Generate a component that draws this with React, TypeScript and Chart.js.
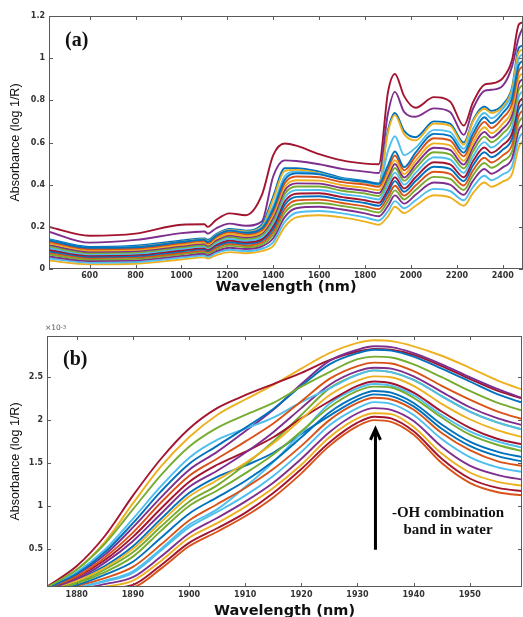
import React, { useEffect, useRef } from 'react';
import { Chart, registerables } from 'chart.js';

Chart.register(...registerables);

// ---------- Panel (a): full NIR spectra ----------
const WL_A = [420, 600, 800, 1000, 1100, 1115, 1150, 1210, 1280, 1350, 1400, 1450, 1500, 1600, 1700, 1800, 1860, 1900, 1930, 1970, 2020, 2100, 2170, 2230, 2270, 2320, 2350, 2400, 2440, 2470, 2490];
const XA_TICKS = [600, 800, 1000, 1200, 1400, 1600, 1800, 2000, 2200, 2400];
const YA_TICKS = [0, 0.2, 0.4, 0.6, 0.8, 1, 1.2];

const A_TOP = [0.200, 0.158, 0.168, 0.210, 0.212, 0.200, 0.232, 0.264, 0.255, 0.350, 0.540, 0.595, 0.585, 0.545, 0.515, 0.500, 0.497, 0.840, 0.925, 0.820, 0.765, 0.815, 0.795, 0.680, 0.790, 0.875, 0.880, 0.905, 0.990, 1.160, 1.170];
const A_SECOND = [0.178, 0.125, 0.138, 0.170, 0.178, 0.168, 0.192, 0.215, 0.205, 0.225, 0.440, 0.515, 0.512, 0.497, 0.475, 0.462, 0.455, 0.740, 0.840, 0.745, 0.722, 0.762, 0.745, 0.636, 0.760, 0.845, 0.850, 0.870, 0.960, 1.100, 1.150];
const A_THIRD_Y = [0.135, 0.098, 0.105, 0.130, 0.140, 0.132, 0.160, 0.185, 0.178, 0.200, 0.330, 0.465, 0.470, 0.455, 0.425, 0.410, 0.400, 0.650, 0.730, 0.640, 0.610, 0.690, 0.680, 0.590, 0.700, 0.760, 0.740, 0.770, 0.850, 1.030, 1.040];
const A_THIRD_B = [0.142, 0.105, 0.110, 0.135, 0.145, 0.138, 0.165, 0.190, 0.182, 0.210, 0.345, 0.478, 0.478, 0.462, 0.432, 0.418, 0.405, 0.660, 0.740, 0.655, 0.625, 0.700, 0.690, 0.600, 0.705, 0.770, 0.750, 0.780, 0.860, 1.050, 1.060];
const A_TEAL = [0.138, 0.100, 0.104, 0.128, 0.139, 0.130, 0.158, 0.183, 0.174, 0.196, 0.300, 0.440, 0.462, 0.452, 0.428, 0.412, 0.400, 0.560, 0.630, 0.540, 0.575, 0.660, 0.650, 0.570, 0.665, 0.740, 0.715, 0.760, 0.835, 1.000, 1.020];
const A_B1 = [0.137, 0.100, 0.103, 0.128, 0.138, 0.128, 0.157, 0.182, 0.172, 0.192, 0.285, 0.423, 0.454, 0.449, 0.425, 0.414, 0.404, 0.493, 0.557, 0.483, 0.552, 0.641, 0.631, 0.552, 0.641, 0.720, 0.691, 0.740, 0.809, 0.968, 0.988];
const A_B2 = [0.130, 0.094, 0.097, 0.122, 0.132, 0.122, 0.151, 0.175, 0.165, 0.184, 0.272, 0.407, 0.439, 0.435, 0.412, 0.401, 0.390, 0.475, 0.538, 0.468, 0.534, 0.620, 0.610, 0.534, 0.621, 0.698, 0.669, 0.717, 0.783, 0.940, 0.961];
const A_B3 = [0.122, 0.088, 0.091, 0.115, 0.125, 0.116, 0.143, 0.166, 0.157, 0.175, 0.258, 0.389, 0.421, 0.419, 0.397, 0.385, 0.374, 0.455, 0.516, 0.450, 0.513, 0.596, 0.586, 0.513, 0.598, 0.672, 0.644, 0.690, 0.753, 0.908, 0.930];
const A_B4 = [0.115, 0.082, 0.085, 0.109, 0.119, 0.110, 0.136, 0.159, 0.150, 0.168, 0.245, 0.373, 0.406, 0.405, 0.384, 0.371, 0.360, 0.438, 0.498, 0.434, 0.495, 0.575, 0.565, 0.495, 0.578, 0.650, 0.623, 0.666, 0.728, 0.880, 0.903];
const A_B5 = [0.108, 0.076, 0.079, 0.103, 0.113, 0.104, 0.130, 0.151, 0.143, 0.160, 0.232, 0.356, 0.391, 0.391, 0.371, 0.358, 0.346, 0.420, 0.479, 0.418, 0.477, 0.554, 0.544, 0.477, 0.557, 0.628, 0.601, 0.643, 0.702, 0.852, 0.875];
const A_B6 = [0.100, 0.070, 0.073, 0.096, 0.106, 0.098, 0.122, 0.143, 0.135, 0.151, 0.218, 0.338, 0.374, 0.375, 0.356, 0.342, 0.330, 0.400, 0.457, 0.400, 0.456, 0.530, 0.520, 0.456, 0.534, 0.602, 0.576, 0.616, 0.672, 0.820, 0.844];
const A_B7 = [0.092, 0.064, 0.067, 0.089, 0.099, 0.092, 0.114, 0.135, 0.127, 0.142, 0.204, 0.320, 0.357, 0.359, 0.341, 0.326, 0.314, 0.380, 0.435, 0.382, 0.435, 0.506, 0.496, 0.435, 0.511, 0.576, 0.551, 0.589, 0.642, 0.788, 0.813];
const A_B8 = [0.085, 0.058, 0.061, 0.083, 0.093, 0.086, 0.108, 0.127, 0.120, 0.135, 0.191, 0.304, 0.342, 0.345, 0.328, 0.313, 0.300, 0.363, 0.417, 0.366, 0.417, 0.485, 0.475, 0.417, 0.491, 0.554, 0.530, 0.566, 0.617, 0.760, 0.786];
const A_B9 = [0.077, 0.052, 0.055, 0.076, 0.086, 0.080, 0.100, 0.119, 0.112, 0.126, 0.177, 0.285, 0.325, 0.329, 0.313, 0.297, 0.284, 0.343, 0.395, 0.348, 0.396, 0.461, 0.451, 0.396, 0.467, 0.528, 0.505, 0.539, 0.587, 0.728, 0.754];
const A_B10 = [0.069, 0.045, 0.048, 0.070, 0.080, 0.073, 0.093, 0.111, 0.104, 0.117, 0.162, 0.267, 0.307, 0.313, 0.299, 0.282, 0.268, 0.323, 0.373, 0.330, 0.375, 0.437, 0.427, 0.375, 0.444, 0.503, 0.480, 0.512, 0.557, 0.696, 0.723];
const A_B11 = [0.060, 0.038, 0.041, 0.062, 0.072, 0.066, 0.084, 0.101, 0.095, 0.107, 0.146, 0.246, 0.288, 0.295, 0.282, 0.264, 0.250, 0.300, 0.349, 0.310, 0.352, 0.410, 0.400, 0.352, 0.418, 0.474, 0.452, 0.482, 0.524, 0.660, 0.688];
const A_B12 = [0.050, 0.030, 0.033, 0.054, 0.064, 0.058, 0.075, 0.091, 0.085, 0.096, 0.128, 0.223, 0.267, 0.275, 0.264, 0.245, 0.230, 0.275, 0.322, 0.288, 0.326, 0.380, 0.370, 0.326, 0.389, 0.442, 0.421, 0.449, 0.487, 0.620, 0.649];
const A_B13 = [0.040, 0.022, 0.025, 0.045, 0.055, 0.050, 0.065, 0.080, 0.075, 0.085, 0.110, 0.200, 0.245, 0.255, 0.245, 0.225, 0.210, 0.250, 0.295, 0.265, 0.300, 0.350, 0.340, 0.300, 0.360, 0.410, 0.390, 0.415, 0.450, 0.580, 0.610];

// ---------- Panel (b): zoom on the 1930 nm water band (x 1e-3) ----------
const WL_B = [1874.7, 1880, 1885, 1890, 1895, 1900, 1905, 1910, 1915, 1920, 1925, 1930, 1933, 1936, 1940, 1945, 1950, 1955, 1960];
const XB_TICKS = [1880, 1890, 1900, 1910, 1920, 1930, 1940, 1950];
const YB_TICKS = [0.5, 1, 1.5, 2, 2.5];

const B_E1 = [0.06, 0.30, 0.65, 1.12, 1.55, 1.90, 2.14, 2.29, 2.42, 2.55, 2.70, 2.80, 2.83, 2.82, 2.76, 2.63, 2.48, 2.34, 2.24];
const B_E2 = [0.05, 0.26, 0.58, 1.03, 1.46, 1.80, 2.06, 2.24, 2.41, 2.60, 2.78, 2.90, 2.93, 2.92, 2.86, 2.75, 2.61, 2.46, 2.34];
const B_E3 = [0.05, 0.26, 0.56, 0.96, 1.36, 1.69, 1.91, 2.06, 2.20, 2.39, 2.56, 2.71, 2.74, 2.73, 2.65, 2.50, 2.34, 2.20, 2.10];
const B_E4 = [0.04, 0.21, 0.46, 0.80, 1.17, 1.49, 1.70, 1.91, 2.13, 2.40, 2.65, 2.78, 2.82, 2.81, 2.74, 2.60, 2.45, 2.30, 2.19];
const B_E5 = [0.04, 0.18, 0.40, 0.69, 1.04, 1.35, 1.55, 1.75, 1.96, 2.22, 2.48, 2.63, 2.67, 2.66, 2.57, 2.40, 2.24, 2.10, 2.00];
const B_E6 = [0.05, 0.23, 0.49, 0.85, 1.23, 1.56, 1.77, 1.90, 2.03, 2.21, 2.37, 2.53, 2.58, 2.56, 2.47, 2.28, 2.10, 1.97, 1.88];
const B_E7 = [0.03, 0.15, 0.34, 0.59, 0.91, 1.22, 1.41, 1.62, 1.86, 2.14, 2.41, 2.57, 2.61, 2.60, 2.51, 2.33, 2.15, 2.02, 1.93];
const B_E8 = [0.03, 0.13, 0.28, 0.50, 0.81, 1.11, 1.30, 1.50, 1.73, 2.01, 2.29, 2.46, 2.51, 2.50, 2.40, 2.19, 2.01, 1.88, 1.79];
const B_E9 = [0.03, 0.17, 0.37, 0.64, 0.97, 1.28, 1.48, 1.63, 1.80, 2.02, 2.22, 2.40, 2.45, 2.43, 2.32, 2.10, 1.91, 1.78, 1.71];
const B_E10 = [0.02, 0.10, 0.23, 0.41, 0.71, 1.00, 1.18, 1.38, 1.60, 1.87, 2.15, 2.34, 2.39, 2.38, 2.26, 2.03, 1.83, 1.71, 1.63];
const B_E11 = [0.02, 0.08, 0.20, 0.35, 0.63, 0.91, 1.10, 1.29, 1.52, 1.80, 2.09, 2.28, 2.34, 2.32, 2.20, 1.95, 1.75, 1.63, 1.56];
const B_E12 = [0.01, 0.07, 0.16, 0.29, 0.55, 0.83, 1.02, 1.21, 1.43, 1.70, 2.00, 2.20, 2.26, 2.24, 2.12, 1.85, 1.65, 1.52, 1.46];
const B_E13 = [0.01, 0.05, 0.12, 0.22, 0.48, 0.75, 0.93, 1.12, 1.35, 1.63, 1.94, 2.14, 2.21, 2.19, 2.06, 1.78, 1.57, 1.45, 1.39];
const B_E14 = [0.01, 0.03, 0.09, 0.17, 0.41, 0.68, 0.86, 1.05, 1.27, 1.55, 1.86, 2.08, 2.14, 2.12, 1.99, 1.69, 1.47, 1.36, 1.30];
const B_E15 = [0.00, 0.02, 0.06, 0.13, 0.36, 0.63, 0.80, 0.99, 1.21, 1.48, 1.80, 2.02, 2.08, 2.07, 1.92, 1.61, 1.39, 1.28, 1.23];
const B_E16 = [0.00, 0.01, 0.04, 0.08, 0.31, 0.57, 0.74, 0.92, 1.15, 1.43, 1.74, 1.97, 2.04, 2.02, 1.87, 1.55, 1.32, 1.21, 1.17];
const B_E17 = [0.04, 0.20, 0.43, 0.75, 1.10, 1.42, 1.63, 1.87, 2.12, 2.42, 2.69, 2.82, 2.86, 2.85, 2.78, 2.65, 2.50, 2.36, 2.24];
const B_E18 = [0.02, 0.11, 0.26, 0.46, 0.76, 1.05, 1.24, 1.48, 1.75, 2.06, 2.37, 2.53, 2.58, 2.56, 2.47, 2.28, 2.10, 1.97, 1.88];
const B_E19 = [0.01, 0.05, 0.13, 0.24, 0.50, 0.78, 0.96, 1.22, 1.51, 1.85, 2.19, 2.37, 2.42, 2.40, 2.29, 2.06, 1.87, 1.75, 1.67];
const B_E20 = [0.03, 0.14, 0.30, 0.53, 0.85, 1.15, 1.34, 1.47, 1.62, 1.84, 2.05, 2.24, 2.30, 2.28, 2.16, 1.90, 1.70, 1.58, 1.51];
const B_BOTTOM = [0.00, 0.00, 0.02, 0.05, 0.27, 0.53, 0.70, 0.88, 1.10, 1.38, 1.70, 1.93, 2.00, 1.98, 1.83, 1.50, 1.27, 1.16, 1.12];

// arrow marking the -OH band (data units of panel b)
const ARROW_X = 1933.2;
const ARROW_Y_FROM = 0.49;
const ARROW_Y_TO = 1.91;

// MATLAB default colour order
const C_BLUE = '#0072BD';
const C_ORANGE = '#D95319';
const C_YELLOW = '#EDB120';
const C_PURPLE = '#7E2F8E';
const C_GREEN = '#77AC30';
const C_CYAN = '#4DBEEE';
const C_RED = '#A2142F';

const SERIES_A: [number[], string][] = [
  [A_B1, C_BLUE], [A_B2, C_ORANGE], [A_B3, C_YELLOW], [A_B4, C_PURPLE], [A_B5, C_GREEN],
  [A_B6, C_CYAN], [A_B7, C_RED], [A_B8, C_BLUE], [A_B9, C_ORANGE], [A_B10, C_GREEN],
  [A_B11, C_PURPLE], [A_B12, C_CYAN], [A_B13, C_YELLOW],
  [A_TEAL, C_CYAN], [A_THIRD_Y, C_YELLOW], [A_THIRD_B, C_BLUE], [A_SECOND, C_PURPLE], [A_TOP, C_RED],
];

const SERIES_B: [number[], string][] = [
  [B_E3, C_GREEN], [B_E4, C_BLUE], [B_E5, C_ORANGE], [B_E6, C_CYAN], [B_E7, C_PURPLE],
  [B_E8, C_YELLOW], [B_E9, C_RED], [B_E10, C_GREEN], [B_E11, C_BLUE], [B_E12, C_ORANGE],
  [B_E13, C_CYAN], [B_E14, C_PURPLE], [B_E15, C_YELLOW], [B_E16, C_RED], [B_E17, C_PURPLE],
  [B_E18, C_GREEN], [B_E19, C_CYAN], [B_E20, C_BLUE], [B_E1, C_RED], [B_E2, C_YELLOW],
  [B_BOTTOM, C_ORANGE],
];

const TICK_FONT = { family: "'DejaVu Sans', Verdana, sans-serif", size: 8, weight: 'bold' as const };
const TICK_COLOR = '#333';
const Y_TITLE_FONT = { family: "'Liberation Sans', Arial, sans-serif", size: 12.5 };
const X_TITLE_FONT = { family: "'DejaVu Sans', Verdana, sans-serif", size: 14.5, weight: 'bold' as const };

const framePlugin = {
  id: 'frameTicks',
  afterDatasetsDraw(chart: any) {
    const { ctx, chartArea } = chart;
    const { left, top, right, bottom } = chartArea;
    const xs = chart.scales.x;
    const ys = chart.scales.y;
    ctx.save();
    ctx.strokeStyle = '#5a5a5a';
    ctx.lineWidth = 1;
    ctx.beginPath();
    for (const t of xs.ticks) {
      const px = Math.round(xs.getPixelForValue(t.value)) + 0.5;
      ctx.moveTo(px, bottom);
      ctx.lineTo(px, bottom - 4);
      ctx.moveTo(px, top);
      ctx.lineTo(px, top + 4);
    }
    for (const t of ys.ticks) {
      const py = Math.round(ys.getPixelForValue(t.value)) + 0.5;
      ctx.moveTo(left, py);
      ctx.lineTo(left + 4, py);
      ctx.moveTo(right, py);
      ctx.lineTo(right - 4, py);
    }
    ctx.stroke();
    ctx.strokeRect(left + 0.5, top + 0.5, right - left - 1, bottom - top - 1);
    ctx.restore();
  },
};

const arrowPlugin = {
  id: 'bandArrow',
  afterDatasetsDraw(chart: any) {
    const { ctx } = chart;
    const xs = chart.scales.x;
    const ys = chart.scales.y;
    const x = xs.getPixelForValue(ARROW_X);
    const y0 = ys.getPixelForValue(ARROW_Y_FROM);
    const y1 = ys.getPixelForValue(ARROW_Y_TO);
    ctx.save();
    ctx.strokeStyle = '#000';
    ctx.lineWidth = 3;
    ctx.lineCap = 'butt';
    ctx.beginPath();
    ctx.moveTo(x, y0);
    ctx.lineTo(x, y1 + 2);
    ctx.stroke();
    ctx.lineJoin = 'miter';
    ctx.beginPath();
    ctx.moveTo(x - 5, y1 + 12);
    ctx.lineTo(x, y1 + 1);
    ctx.lineTo(x + 5, y1 + 12);
    ctx.stroke();
    ctx.restore();
  },
};

function buildConfig(
  wl: number[],
  series: [number[], string][],
  p: {
    xMin: number; xMax: number; yMin: number; yMax: number;
    xTicks: number[]; yTicks: number[];
    padTop: number; padRight: number;
    yWidth: number; xHeight: number;
    xTickPad: number; yTitlePad: number; xTitlePad: number;
  },
  extraPlugins: any[]
): any {
  return {
    type: 'line',
    data: {
      datasets: series.map(([vals, color]) => ({
        data: wl.map((x, i) => ({ x, y: vals[i] })),
        borderColor: color,
        borderWidth: 1.9,
        pointRadius: 0,
        fill: false,
        cubicInterpolationMode: 'monotone',
        clip: 0,
      })),
    },
    options: {
      responsive: false,
      maintainAspectRatio: false,
      animation: false,
      events: [],
      layout: { padding: { top: p.padTop, right: p.padRight, left: 0, bottom: 0 } },
      plugins: { legend: { display: false }, tooltip: { enabled: false } },
      scales: {
        x: {
          type: 'linear',
          min: p.xMin,
          max: p.xMax,
          afterBuildTicks: (s: any) => { s.ticks = p.xTicks.map((v) => ({ value: v })); },
          afterFit: (s: any) => { s.height = p.xHeight; s.paddingLeft = 0; s.paddingRight = 0; },
          grid: { display: false, drawTicks: false },
          border: { display: false },
          ticks: {
            font: TICK_FONT, color: TICK_COLOR, padding: p.xTickPad,
            maxRotation: 0, autoSkip: false,
            callback: (v: number) => String(v),
          },
          title: {
            display: true, text: 'Wavelength (nm)', font: X_TITLE_FONT, color: '#111',
            padding: { top: 0, bottom: p.xTitlePad },
          },
        },
        y: {
          type: 'linear',
          min: p.yMin,
          max: p.yMax,
          afterBuildTicks: (s: any) => { s.ticks = p.yTicks.map((v) => ({ value: v })); },
          afterFit: (s: any) => { s.width = p.yWidth; s.paddingTop = 0; s.paddingBottom = 0; },
          grid: { display: false, drawTicks: false },
          border: { display: false },
          ticks: {
            font: TICK_FONT, color: TICK_COLOR, padding: 4, autoSkip: false,
            callback: (v: number) => String(v),
          },
          title: {
            display: true, text: 'Absorbance (log 1/R)', font: Y_TITLE_FONT, color: '#111',
            padding: { top: p.yTitlePad, bottom: 0 },
          },
        },
      },
    },
    plugins: [framePlugin, ...extraPlugins],
  };
}

export default function App() {
  const refA = useRef<HTMLCanvasElement>(null);
  const refB = useRef<HTMLCanvasElement>(null);

  useEffect(() => {
    document.body.style.margin = '0';
    const a = new Chart(refA.current as HTMLCanvasElement, buildConfig(WL_A, SERIES_A, {
      xMin: 423, xMax: 2488, yMin: 0, yMax: 1.2,
      xTicks: XA_TICKS, yTicks: YA_TICKS,
      padTop: 16, padRight: 0, yWidth: 49, xHeight: 31,
      xTickPad: 2, yTitlePad: 8, xTitlePad: 4,
    }, []));
    const b = new Chart(refB.current as HTMLCanvasElement, buildConfig(WL_B, SERIES_B, {
      xMin: 1874.7, xMax: 1959.3, yMin: 0.056, yMax: 2.98,
      xTicks: XB_TICKS, yTicks: YB_TICKS,
      padTop: 36, padRight: 1, yWidth: 47, xHeight: 30,
      xTickPad: 3, yTitlePad: 8, xTitlePad: -3,
    }, [arrowPlugin]));
    return () => { a.destroy(); b.destroy(); };
  }, []);

  const serifBold = "'Liberation Serif', 'Times New Roman', serif";
  return (
    <div style={{ position: 'absolute', left: 0, top: 0, width: 523, height: 617, overflow: 'hidden', background: '#fff' }}>
      <canvas ref={refA} width={523} height={300} style={{ position: 'absolute', left: 0, top: 0 }} />
      <canvas ref={refB} width={523} height={317} style={{ position: 'absolute', left: 0, top: 300 }} />
      <div style={{ position: 'absolute', left: 65, top: 29, fontFamily: serifBold, fontWeight: 'bold', fontSize: 20, lineHeight: '20px', color: '#111' }}>(a)</div>
      <div style={{ position: 'absolute', left: 63, top: 348, fontFamily: serifBold, fontWeight: 'bold', fontSize: 20, lineHeight: '20px', color: '#111' }}>(b)</div>
      <div style={{ position: 'absolute', left: 45, top: 323, fontFamily: "'DejaVu Sans', sans-serif", fontSize: 7.5, lineHeight: '10px', color: '#555', whiteSpace: 'nowrap' }}>
        ×10<sup style={{ fontSize: 5.5, verticalAlign: 'top', position: 'relative', top: -1 }}>-3</sup>
      </div>
      <div style={{ position: 'absolute', left: 368, top: 504, width: 160, textAlign: 'center', fontFamily: serifBold, fontWeight: 'bold', fontSize: 15, lineHeight: '17px', color: '#111' }}>
        -OH combination<br />band in water
      </div>
    </div>
  );
}
